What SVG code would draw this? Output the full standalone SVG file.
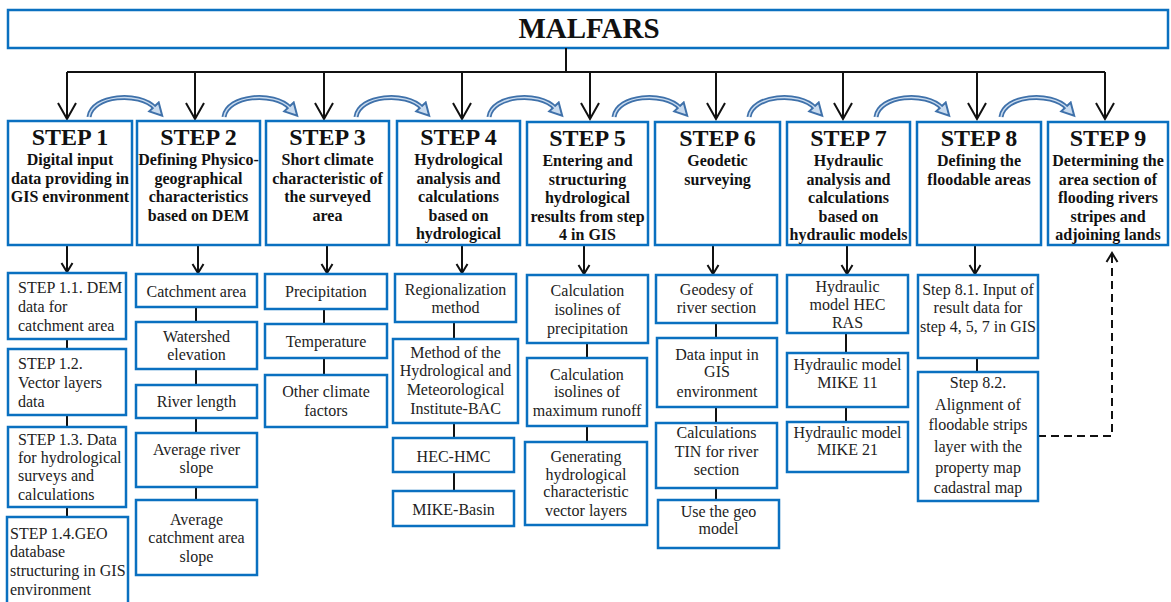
<svg xmlns="http://www.w3.org/2000/svg" width="1171" height="602" viewBox="0 0 1171 602">
<style>
.box{fill:#fff;stroke:#0a70c0;stroke-width:2.5}
.ln{stroke:#111;stroke-width:2;fill:none}
.h{font-family:"Liberation Serif",serif;font-weight:bold;font-size:24px;fill:#111;text-anchor:middle}
.st{font-family:"Liberation Serif",serif;font-weight:bold;font-size:16px;fill:#111;text-anchor:middle}
.t{font-family:"Liberation Serif",serif;font-size:16px;fill:#222;text-anchor:middle}
.tl{font-family:"Liberation Serif",serif;font-size:16px;fill:#222}
.cv{fill:none;stroke:#3f71aa;stroke-width:5}
.cvi{fill:none;stroke:#c9dbef;stroke-width:1.5}
</style>
<defs>
<marker id="big" markerUnits="userSpaceOnUse" markerWidth="24" markerHeight="20" viewBox="0 0 24 20" refX="17" refY="10" orient="auto"><path d="M1,1 L17,10 L1,19" fill="none" stroke="#111" stroke-width="2"/></marker>
<marker id="sm" markerUnits="userSpaceOnUse" markerWidth="14" markerHeight="14" viewBox="0 0 14 14" refX="10" refY="7" orient="auto"><path d="M1,1.5 L10,7 L1,12.5" fill="none" stroke="#111" stroke-width="2"/></marker>
<marker id="cvh" markerUnits="userSpaceOnUse" markerWidth="16" markerHeight="16" viewBox="0 0 16 16" refX="3" refY="8" orient="auto"><path d="M1.5,1.5 L13.5,8 L1.5,14.5 z" fill="#c9dbef" stroke="#3f71aa" stroke-width="2"/></marker>
<path id="arc" d="M0,20 C3,-2 50,-6 66,11"/>
</defs>

<g id="title">
<rect class="box" x="8" y="10" width="1160" height="38"/>
<text x="589" y="38" font-family="Liberation Serif,serif" font-weight="bold" font-size="29" fill="#111" text-anchor="middle">MALFARS</text>
</g>

<g id="connectors">
<path class="ln" d="M566,48 V72 M67,72 H1105"/>
<path class="ln" marker-end="url(#big)" d="M67,72 V119"/>
<path class="ln" marker-end="url(#big)" d="M195,72 V119"/>
<path class="ln" marker-end="url(#big)" d="M324,72 V119"/>
<path class="ln" marker-end="url(#big)" d="M462,72 V119"/>
<path class="ln" marker-end="url(#big)" d="M590,72 V119"/>
<path class="ln" marker-end="url(#big)" d="M716,72 V119"/>
<path class="ln" marker-end="url(#big)" d="M843,72 V119"/>
<path class="ln" marker-end="url(#big)" d="M977,72 V119"/>
<path class="ln" marker-end="url(#big)" d="M1105,72 V119"/>

<g transform="translate(89,97)"><use href="#arc" class="cv" marker-end="url(#cvh)"/><use href="#arc" class="cvi"/></g>
<g transform="translate(224,97)"><use href="#arc" class="cv" marker-end="url(#cvh)"/><use href="#arc" class="cvi"/></g>
<g transform="translate(356,97)"><use href="#arc" class="cv" marker-end="url(#cvh)"/><use href="#arc" class="cvi"/></g>
<g transform="translate(489,97)"><use href="#arc" class="cv" marker-end="url(#cvh)"/><use href="#arc" class="cvi"/></g>
<g transform="translate(614,97)"><use href="#arc" class="cv" marker-end="url(#cvh)"/><use href="#arc" class="cvi"/></g>
<g transform="translate(749,97)"><use href="#arc" class="cv" marker-end="url(#cvh)"/><use href="#arc" class="cvi"/></g>
<g transform="translate(876,97)"><use href="#arc" class="cv" marker-end="url(#cvh)"/><use href="#arc" class="cvi"/></g>
<g transform="translate(1001,97)"><use href="#arc" class="cv" marker-end="url(#cvh)"/><use href="#arc" class="cvi"/></g>

<path class="ln" marker-end="url(#sm)" d="M67,245 V272"/>
<path class="ln" marker-end="url(#sm)" d="M198,245 V273"/>
<path class="ln" marker-end="url(#sm)" d="M327,245 V273"/>
<path class="ln" marker-end="url(#sm)" d="M462,245 V273"/>
<path class="ln" marker-end="url(#sm)" d="M584,245 V274"/>
<path class="ln" marker-end="url(#sm)" d="M713,245 V274"/>
<path class="ln" marker-end="url(#sm)" d="M847,245 V274"/>
<path class="ln" marker-end="url(#sm)" d="M975,245 V274"/>

<path class="ln" d="M67,339 V349 M67,415 V427 M67,507 V517"/>
<path class="ln" d="M196,307 V322 M196,369 V385 M196,418 V433 M196,487 V500"/>
<path class="ln" d="M324,309 V324 M324,358 V375"/>
<path class="ln" d="M454,322 V339 M454,423 V438 M454,472 V491"/>
<path class="ln" d="M587,343 V358 M587,426 V442"/>
<path class="ln" d="M716,323 V338 M716,407 V423 M716,488 V500"/>
<path class="ln" d="M846,333 V353 M846,407 V422"/>
<path class="ln" d="M977,358 V372"/>
<path class="ln" stroke-dasharray="8,5" marker-end="url(#sm)" d="M1038,436 H1112 V253"/>
</g>

<g id="step1">
<rect class="box" x="8" y="121" width="124" height="124"/>
<text class="h" x="70" y="145">STEP 1</text>
<text class="st" x="70" y="165">Digital input</text>
<text class="st" x="70" y="183.5">data providing in</text>
<text class="st" x="70" y="202">GIS environment</text>
</g>
<g id="step2">
<rect class="box" x="137" y="121" width="123" height="124"/>
<text class="h" x="198.5" y="145">STEP 2</text>
<text class="st" x="198.5" y="165">Defining Physico-</text>
<text class="st" x="198.5" y="183.5">geographical</text>
<text class="st" x="198.5" y="202">characteristics</text>
<text class="st" x="198.5" y="220.5">based on DEM</text>
</g>
<g id="step3">
<rect class="box" x="266" y="121" width="123" height="124"/>
<text class="h" x="327.5" y="145">STEP 3</text>
<text class="st" x="327.5" y="165">Short climate</text>
<text class="st" x="327.5" y="183.5">characteristic of</text>
<text class="st" x="327.5" y="202">the surveyed</text>
<text class="st" x="327.5" y="220.5">area</text>
</g>
<g id="step4">
<rect class="box" x="397" y="121" width="123" height="124"/>
<text class="h" x="458.5" y="145">STEP 4</text>
<text class="st" x="458.5" y="165">Hydrological</text>
<text class="st" x="458.5" y="183.5">analysis and</text>
<text class="st" x="458.5" y="202">calculations</text>
<text class="st" x="458.5" y="220.5">based on</text>
<text class="st" x="458.5" y="239">hydrological</text>
</g>
<g id="step5">
<rect class="box" x="527" y="122" width="121" height="123"/>
<text class="h" x="587.5" y="146">STEP 5</text>
<text class="st" x="587.5" y="166">Entering and</text>
<text class="st" x="587.5" y="184.5">structuring</text>
<text class="st" x="587.5" y="203">hydrological</text>
<text class="st" x="587.5" y="221.5">results from step</text>
<text class="st" x="587.5" y="240">4 in GIS</text>
</g>
<g id="step6">
<rect class="box" x="655" y="122" width="125" height="123"/>
<text class="h" x="717.5" y="146">STEP 6</text>
<text class="st" x="717.5" y="166">Geodetic</text>
<text class="st" x="717.5" y="184.5">surveying</text>
</g>
<g id="step7">
<rect class="box" x="787" y="122" width="123" height="123"/>
<text class="h" x="848.5" y="146">STEP 7</text>
<text class="st" x="848.5" y="166">Hydraulic</text>
<text class="st" x="848.5" y="184.5">analysis and</text>
<text class="st" x="848.5" y="203">calculations</text>
<text class="st" x="848.5" y="221.5">based on</text>
<text class="st" x="848.5" y="240">hydraulic models</text>
</g>
<g id="step8">
<rect class="box" x="917" y="122" width="124" height="123"/>
<text class="h" x="979" y="146">STEP 8</text>
<text class="st" x="979" y="166">Defining the</text>
<text class="st" x="979" y="184.5">floodable areas</text>
</g>
<g id="step9">
<rect class="box" x="1048" y="122" width="120" height="123"/>
<text class="h" x="1108" y="146">STEP 9</text>
<text class="st" x="1108" y="166">Determining the</text>
<text class="st" x="1108" y="184.5">area section of</text>
<text class="st" x="1108" y="203">flooding rivers</text>
<text class="st" x="1108" y="221.5">stripes and</text>
<text class="st" x="1108" y="240">adjoining lands</text>
</g>

<g id="s1-1"><rect class="box" x="8" y="273" width="118" height="66"/>
<text class="tl" x="18" y="293">STEP 1.1. DEM</text><text class="tl" x="18" y="312">data for</text><text class="tl" x="18" y="331">catchment area</text></g>
<g id="s1-2"><rect class="box" x="8" y="349" width="118" height="66"/>
<text class="tl" x="18" y="369">STEP 1.2.</text><text class="tl" x="18" y="388">Vector layers</text><text class="tl" x="18" y="407">data</text></g>
<g id="s1-3"><rect class="box" x="8" y="427" width="118" height="80"/>
<text class="tl" x="18" y="445">STEP 1.3. Data</text><text class="tl" x="18" y="463">for hydrological</text><text class="tl" x="18" y="481">surveys and</text><text class="tl" x="18" y="500">calculations</text></g>
<g id="s1-4"><rect class="box" x="7" y="517" width="121" height="95"/>
<text class="tl" x="10" y="539">STEP 1.4.GEO</text><text class="tl" x="10" y="557">database</text><text class="tl" x="10" y="576">structuring in GIS</text><text class="tl" x="10" y="595">environment</text></g>

<g id="s2-1"><rect class="box" x="136" y="274" width="121" height="33"/><text class="t" x="196.5" y="297">Catchment area</text></g>
<g id="s2-2"><rect class="box" x="136" y="322" width="121" height="47"/><text class="t" x="196.5" y="342">Watershed</text><text class="t" x="196.5" y="360">elevation</text></g>
<g id="s2-3"><rect class="box" x="136" y="385" width="121" height="33"/><text class="t" x="196.5" y="407">River length</text></g>
<g id="s2-4"><rect class="box" x="136" y="433" width="121" height="54"/><text class="t" x="196.5" y="455">Average river</text><text class="t" x="196.5" y="473">slope</text></g>
<g id="s2-5"><rect class="box" x="136" y="500" width="121" height="75"/><text class="t" x="196.5" y="525">Average</text><text class="t" x="196.5" y="543">catchment area</text><text class="t" x="196.5" y="562">slope</text></g>

<g id="s3-1"><rect class="box" x="265" y="274" width="122" height="35"/><text class="t" x="326" y="297">Precipitation</text></g>
<g id="s3-2"><rect class="box" x="265" y="324" width="122" height="34"/><text class="t" x="326" y="347">Temperature</text></g>
<g id="s3-3"><rect class="box" x="265" y="375" width="122" height="52"/><text class="t" x="326" y="397">Other climate</text><text class="t" x="326" y="416">factors</text></g>

<g id="s4-1"><rect class="box" x="395" y="274" width="121" height="48"/><text class="t" x="455.5" y="295">Regionalization</text><text class="t" x="455.5" y="313">method</text></g>
<g id="s4-2"><rect class="box" x="393" y="339" width="125" height="84"/><text class="t" x="455.5" y="358">Method of the</text><text class="t" x="455.5" y="376">Hydrological and</text><text class="t" x="455.5" y="395">Meteorological</text><text class="t" x="455.5" y="414">Institute-BAC</text></g>
<g id="s4-3"><rect class="box" x="393" y="438" width="121" height="34"/><text class="t" x="453.5" y="462">HEC-HMC</text></g>
<g id="s4-4"><rect class="box" x="393" y="491" width="121" height="35"/><text class="t" x="453.5" y="515">MIKE-Basin</text></g>

<g id="s5-1"><rect class="box" x="527" y="275" width="121" height="68"/><text class="t" x="587.5" y="296">Calculation</text><text class="t" x="587.5" y="315">isolines of</text><text class="t" x="587.5" y="334">precipitation</text></g>
<g id="s5-2"><rect class="box" x="527" y="358" width="120" height="68"/><text class="t" x="587" y="380">Calculation</text><text class="t" x="587" y="397">isolines of</text><text class="t" x="587" y="416">maximum runoff</text></g>
<g id="s5-3"><rect class="box" x="525" y="442" width="122" height="83"/><text class="t" x="586" y="462">Generating</text><text class="t" x="586" y="480">hydrological</text><text class="t" x="586" y="497">characteristic</text><text class="t" x="586" y="516">vector layers</text></g>

<g id="s6-1"><rect class="box" x="656" y="275" width="121" height="48"/><text class="t" x="716.5" y="295">Geodesy of</text><text class="t" x="716.5" y="313">river section</text></g>
<g id="s6-2"><rect class="box" x="657" y="338" width="120" height="69"/><text class="t" x="717" y="360">Data input in</text><text class="t" x="717" y="377">GIS</text><text class="t" x="717" y="397">environment</text></g>
<g id="s6-3"><rect class="box" x="656" y="423" width="121" height="65"/><text class="t" x="716.5" y="438">Calculations</text><text class="t" x="716.5" y="457">TIN for river</text><text class="t" x="716.5" y="475">section</text></g>
<g id="s6-4"><rect class="box" x="658" y="500" width="121" height="48"/><text class="t" x="718.5" y="517">Use the geo</text><text class="t" x="718.5" y="534">model</text></g>

<g id="s7-1"><rect class="box" x="787" y="275" width="121" height="58"/><text class="t" x="847.5" y="292">Hydraulic</text><text class="t" x="847.5" y="310">model HEC</text><text class="t" x="847.5" y="328">RAS</text></g>
<g id="s7-2"><rect class="box" x="787" y="353" width="121" height="54"/><text class="t" x="847.5" y="370">Hydraulic model</text><text class="t" x="847.5" y="388">MIKE 11</text></g>
<g id="s7-3"><rect class="box" x="787" y="422" width="121" height="50"/><text class="t" x="847.5" y="438">Hydraulic model</text><text class="t" x="847.5" y="455">MIKE 21</text></g>

<g id="s8-1"><rect class="box" x="918" y="275" width="120" height="83"/><text class="t" x="978" y="295">Step 8.1. Input of</text><text class="t" x="978" y="313">result data for</text><text class="t" x="978" y="332">step 4, 5, 7 in GIS</text></g>
<g id="s8-2"><rect class="box" x="918" y="372" width="120" height="129"/><text class="t" x="978" y="388">Step 8.2.</text><text class="t" x="978" y="410">Alignment of</text><text class="t" x="978" y="430">floodable strips</text><text class="t" x="978" y="452">layer with the</text><text class="t" x="978" y="473">property map</text><text class="t" x="978" y="493">cadastral map</text></g>
</svg>
